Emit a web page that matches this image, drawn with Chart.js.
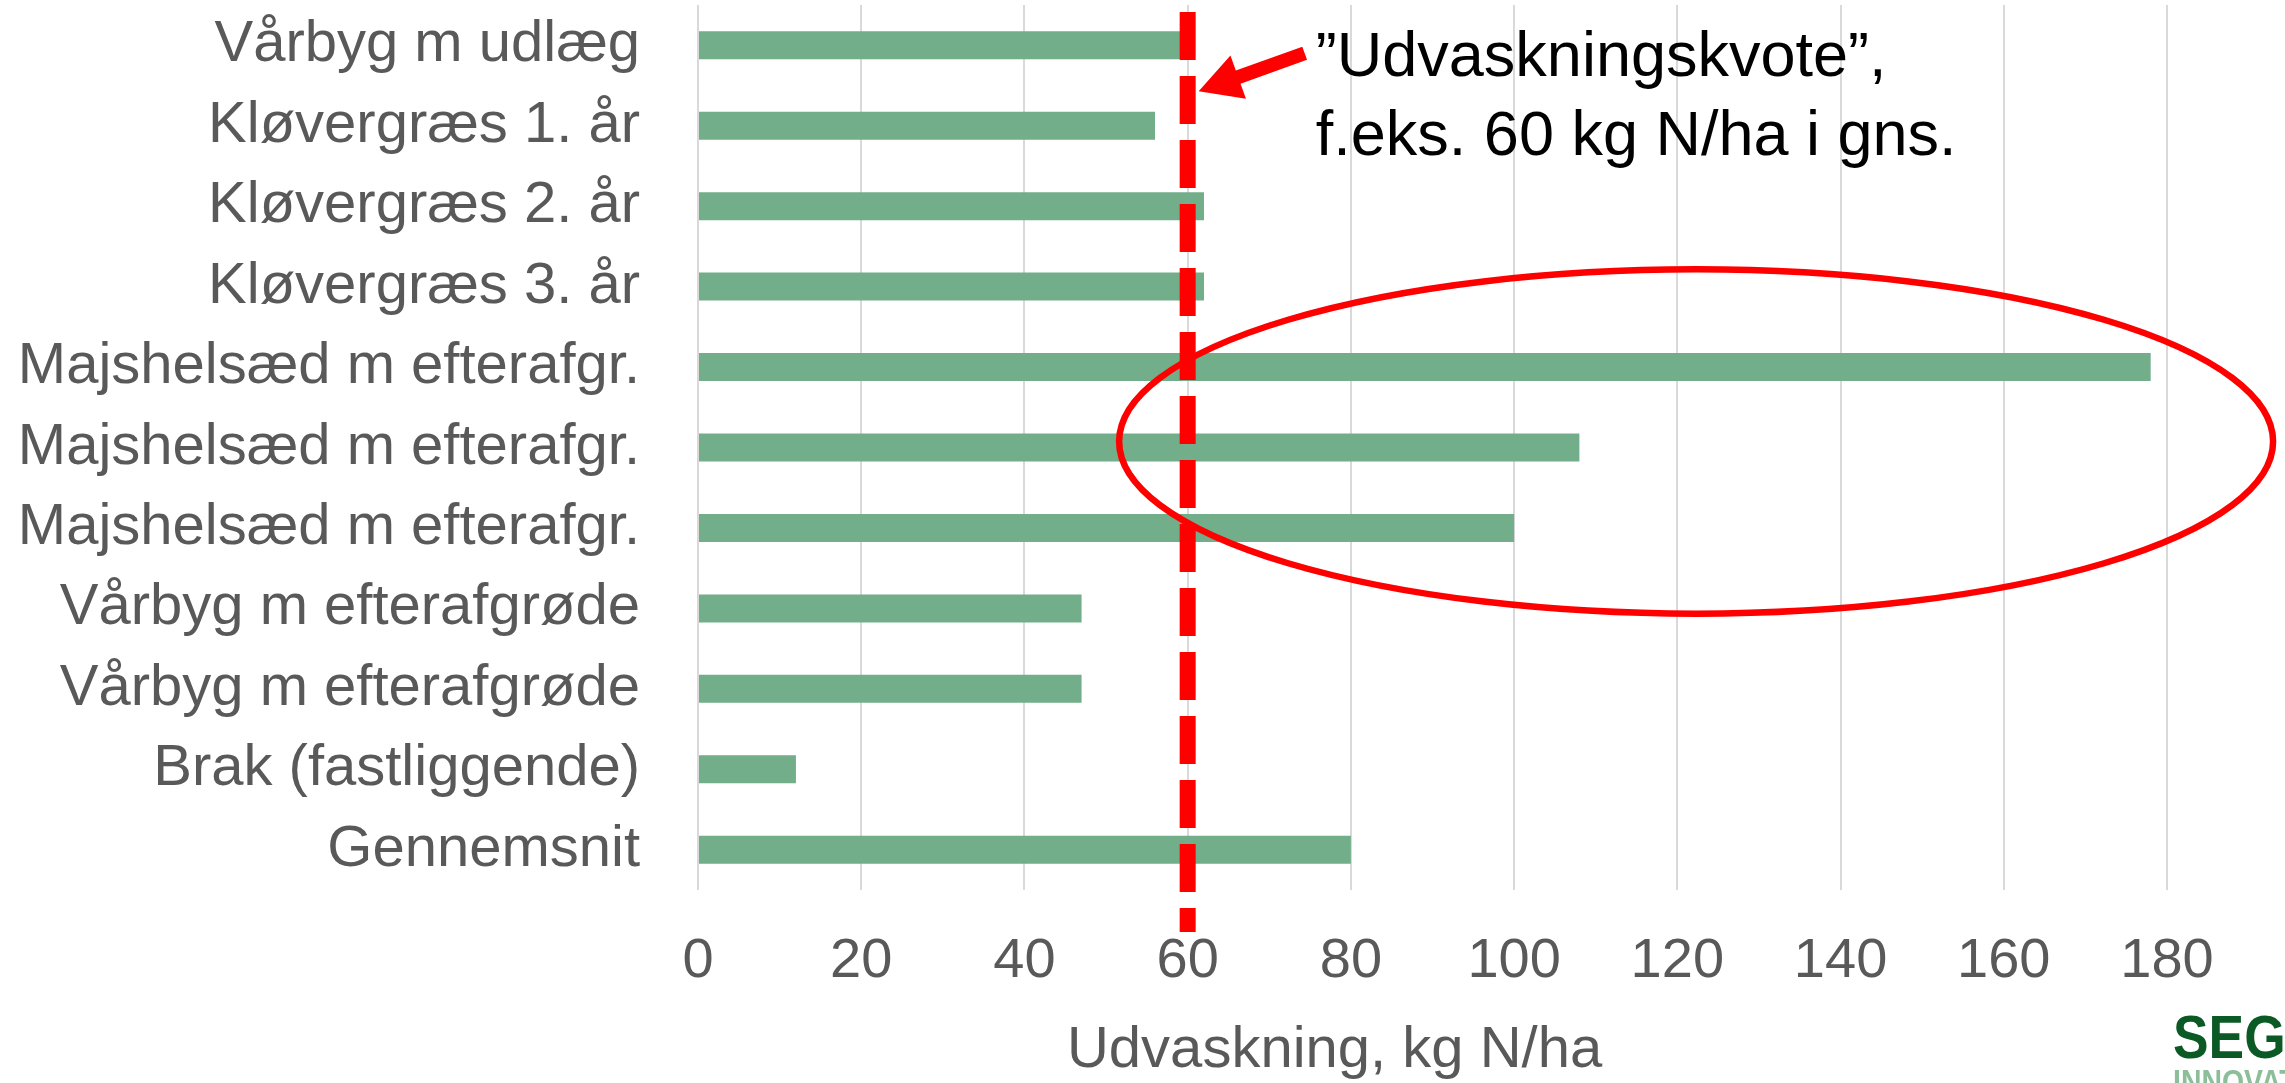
<!DOCTYPE html>
<html><head><meta charset="utf-8">
<script src="https://cdn.jsdelivr.net/npm/chart.js@4.4.1/dist/chart.umd.min.js"></script>
<style>html,body{margin:0;padding:0;background:#fff;overflow:hidden}canvas{display:block}</style>
</head><body>
<canvas id="c" width="2285" height="1083"></canvas>
<script>
// ---- data ----
const categories = ["Vårbyg m udlæg","Kløvergræs 1. år","Kløvergræs 2. år","Kløvergræs 3. år","Majshelsæd m efterafgr.","Majshelsæd m efterafgr.","Majshelsæd m efterafgr.","Vårbyg m efterafgrøde","Vårbyg m efterafgrøde","Brak (fastliggende)","Gennemsnit"];
const leaching = [60, 56, 62, 62, 178, 108, 100, 47, 47, 12, 80];
const xTicks = [0, 20, 40, 60, 80, 100, 120, 140, 160, 180];
const quota = 60;
const axisTitle = "Udvaskning, kg N/ha";
const annotationLines = ["”Udvaskningskvote”,", "f.eks. 60 kg N/ha i gns."];
const highlightRows = [4, 5, 6];
const logoLines = ["SEGES", "INNOVATION"];

const FONT = "'Liberation Sans', Arial, sans-serif";
const GREY = '#595959';
const RED = '#ff0000';

const overlay = {
  id: 'overlay',
  afterDatasetsDraw(chart) {
    const ctx = chart.ctx, xs = chart.scales.x, ys = chart.scales.y, ca = chart.chartArea;
    const rowH = ys.getPixelForValue(1) - ys.getPixelForValue(0);
    ctx.save();
    // ellipse around the maize rows
    const cy = (ys.getPixelForValue(highlightRows[0]) + ys.getPixelForValue(highlightRows[highlightRows.length-1])) / 2 - 6;
    const cx = xs.getPixelForValue(122.3);
    const rx = xs.getPixelForValue(70.7) - xs.getPixelForValue(0);
    const ry = rowH * 2.14;
    ctx.beginPath();
    ctx.ellipse(cx, cy, rx, ry, 0, 0, Math.PI * 2);
    ctx.strokeStyle = RED; ctx.lineWidth = 6.5; ctx.stroke();
    // dashed quota line
    const qx = xs.getPixelForValue(quota);
    ctx.beginPath();
    ctx.setLineDash([48, 16]);
    ctx.lineDashOffset = 0;
    ctx.moveTo(qx, ca.top + 7);
    ctx.lineTo(qx, ca.bottom + 42);
    ctx.lineWidth = 16; ctx.strokeStyle = RED; ctx.lineCap = 'butt';
    ctx.stroke();
    ctx.setLineDash([]);
    // arrow
    const tip = {x: qx + 11, y: ys.getPixelForValue(0) + 46};
    const start = {x: tip.x + 106, y: tip.y - 38};
    const dx = tip.x - start.x, dy = tip.y - start.y, L = Math.hypot(dx, dy);
    const ux = dx / L, uy = dy / L, nx = -uy, ny = ux;
    const headL = 42, headW = 23, shaftW = 7;
    const bx = tip.x - ux * headL, by = tip.y - uy * headL;
    ctx.beginPath();
    ctx.moveTo(start.x + nx * shaftW, start.y + ny * shaftW);
    ctx.lineTo(bx + nx * shaftW, by + ny * shaftW);
    ctx.lineTo(bx + nx * headW, by + ny * headW);
    ctx.lineTo(tip.x, tip.y);
    ctx.lineTo(bx - nx * headW, by - ny * headW);
    ctx.lineTo(bx - nx * shaftW, by - ny * shaftW);
    ctx.lineTo(start.x - nx * shaftW, start.y - ny * shaftW);
    ctx.closePath();
    ctx.fillStyle = RED; ctx.fill();
    // annotation text
    ctx.fillStyle = '#000';
    ctx.font = '63px ' + FONT;
    ctx.textAlign = 'left'; ctx.textBaseline = 'alphabetic';
    const tx = xs.getPixelForValue(75.7);
    ctx.fillText(annotationLines[0], tx, 76);
    ctx.fillText(annotationLines[1], tx, 155);
    ctx.restore();
  },
  afterDraw(chart) {
    const ctx = chart.ctx, xs = chart.scales.x;
    ctx.save();
    // x-axis title (offset left of plot centre, as in the original)
    ctx.fillStyle = GREY;
    ctx.font = '58px ' + FONT;
    ctx.textAlign = 'center'; ctx.textBaseline = 'alphabetic';
    ctx.fillText(axisTitle, xs.getPixelForValue(78), 1067);
    // logo
    ctx.textAlign = 'left';
    ctx.translate(2173, 0);
    ctx.scale(0.86, 1);
    ctx.fillStyle = '#0b5a26';
    ctx.font = "bold 62px 'Liberation Sans Narrow', 'Liberation Sans', Arial, sans-serif";
    ctx.fillText(logoLines[0], 0, 1058);
    ctx.fillStyle = '#8cbf99';
    ctx.font = "bold 33px 'Liberation Sans Narrow', 'Liberation Sans', Arial, sans-serif";
    ctx.fillText(logoLines[1], 0, 1093);
    ctx.restore();
  }
};

new Chart(document.getElementById('c'), {
  type: 'bar',
  data: {
    labels: categories,
    datasets: [{
      data: leaching,
      backgroundColor: '#72ae8a',
      borderWidth: 0,
      barPercentage: 0.348,
      categoryPercentage: 1.0
    }]
  },
  options: {
    indexAxis: 'y',
    responsive: false,
    animation: false,
    devicePixelRatio: 1,
    layout: {autoPadding: false, padding: {top: 5, right: 118, bottom: 0, left: 0}},
    plugins: {legend: {display: false}, tooltip: {enabled: false}},
    scales: {
      x: {
        min: 0, max: 180,
        afterBuildTicks(scale) { scale.ticks = xTicks.map(v => ({value: v})); },
        afterFit(scale) { scale.height = 1083 - 890; scale.paddingLeft = 0; scale.paddingRight = 0; scale.paddingTop = 0; scale.paddingBottom = 0; },
        ticks: {font: {size: 56, family: FONT}, color: GREY, padding: 38, maxRotation: 0, autoSkip: false},
        grid: {color: '#d9d9d9', lineWidth: 2, drawTicks: false},
        border: {display: false},
        title: {display: false}
      },
      y: {
        afterFit(scale) { scale.width = 698; scale.paddingTop = 0; scale.paddingBottom = 0; scale.paddingLeft = 0; scale.paddingRight = 0; },
        ticks: {font: {size: 58, family: FONT}, color: GREY, padding: 58, autoSkip: false},
        grid: {display: false, drawTicks: false},
        border: {display: false}
      }
    }
  },
  plugins: [overlay]
});
</script>
</body></html>
